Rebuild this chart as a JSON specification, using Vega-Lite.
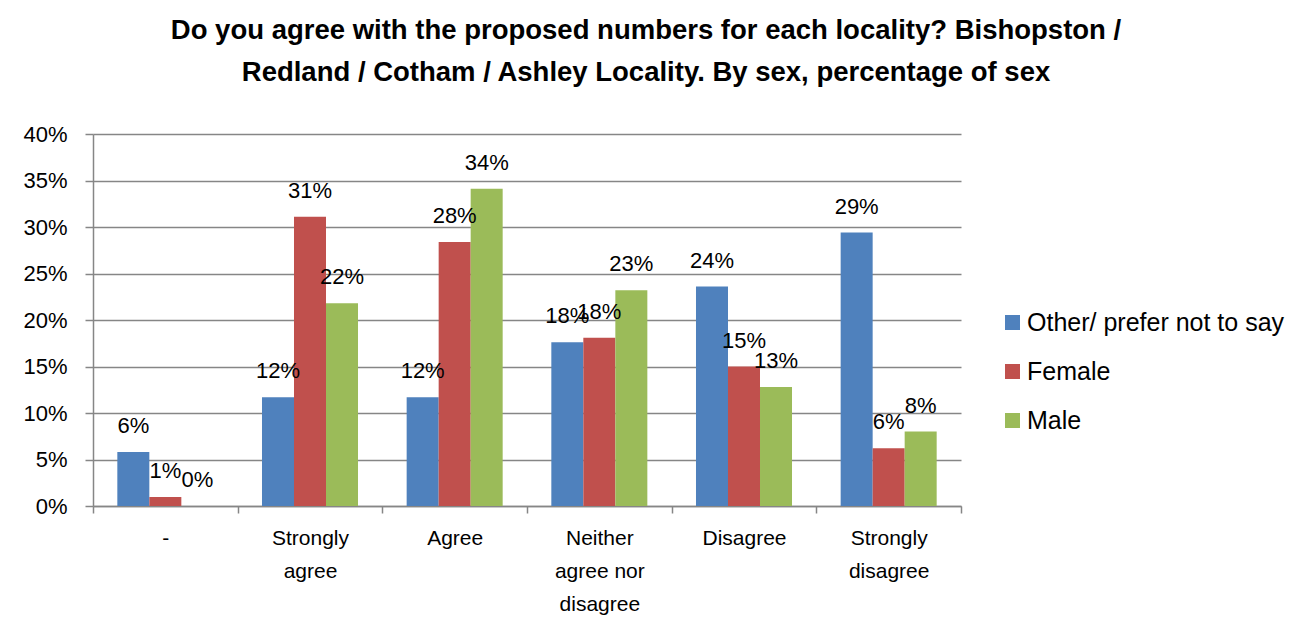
{
  "$schema": "https://vega.github.io/schema/vega-lite/v6.json",
  "autosize": {"type": "none"},
  "width": 868,
  "height": 372,
  "padding": {"left": 93, "top": 134, "right": 350, "bottom": 130},
  "background": "white",
  "title": {
    "text": ["Do you agree with the proposed numbers for each locality? Bishopston /", "Redland / Cotham / Ashley Locality. By sex, percentage of sex"],
    "font": "Liberation Sans",
    "fontSize": 27.5,
    "fontWeight": "bold",
    "color": "black",
    "lineHeight": 42,
    "anchor": "middle",
    "dx": 119,
    "offset": 37
  },
  "config": {
    "view": {"stroke": null},
    "font": "Liberation Sans"
  },
  "data": {
    "values": [
      {"response": "-", "sex": "Other/ prefer not to say", "share": 0.058},
      {"response": "-", "sex": "Female", "share": 0.0097},
      {"response": "-", "sex": "Male", "share": 0.0},
      {"response": "Strongly agree", "sex": "Other/ prefer not to say", "share": 0.117},
      {"response": "Strongly agree", "sex": "Female", "share": 0.311},
      {"response": "Strongly agree", "sex": "Male", "share": 0.218},
      {"response": "Agree", "sex": "Other/ prefer not to say", "share": 0.117},
      {"response": "Agree", "sex": "Female", "share": 0.284},
      {"response": "Agree", "sex": "Male", "share": 0.341},
      {"response": "Neither agree nor disagree", "sex": "Other/ prefer not to say", "share": 0.176},
      {"response": "Neither agree nor disagree", "sex": "Female", "share": 0.181},
      {"response": "Neither agree nor disagree", "sex": "Male", "share": 0.232},
      {"response": "Disagree", "sex": "Other/ prefer not to say", "share": 0.236},
      {"response": "Disagree", "sex": "Female", "share": 0.150},
      {"response": "Disagree", "sex": "Male", "share": 0.128},
      {"response": "Strongly disagree", "sex": "Other/ prefer not to say", "share": 0.294},
      {"response": "Strongly disagree", "sex": "Female", "share": 0.062},
      {"response": "Strongly disagree", "sex": "Male", "share": 0.080}
    ]
  },
  "encoding": {
    "x": {
      "field": "response",
      "type": "nominal",
      "sort": null,
      "scale": {"paddingInner": 0, "paddingOuter": 0},
      "axis": {
        "title": null,
        "labelAngle": 0,
        "labelFontSize": 21,
        "labelColor": "black",
        "labelLineHeight": 33,
        "labelBaseline": "top",
        "labelPadding": 14,
        "labelExpr": "!isString(datum.value) ? '' : datum.value == 'Neither agree nor disagree' ? ['Neither', 'agree nor', 'disagree'] : split(datum.value, ' ')",
        "tickBand": "extent",
        "tickSize": 7,
        "tickColor": "#868686",
        "tickWidth": 1.5,
        "domainColor": "#868686",
        "domainWidth": 1.5
      }
    },
    "xOffset": {
      "field": "sex",
      "type": "nominal",
      "sort": ["Other/ prefer not to say", "Female", "Male"],
      "scale": {"paddingInner": 0, "paddingOuter": 0.76}
    },
    "y": {
      "field": "share",
      "type": "quantitative",
      "scale": {"domain": [0, 0.4], "nice": false},
      "axis": {
        "title": null,
        "format": ".0%",
        "values": [0, 0.05, 0.1, 0.15, 0.2, 0.25, 0.3, 0.35, 0.4],
        "labelFontSize": 22,
        "labelColor": "black",
        "labelPadding": 18,
        "tickSize": 8,
        "tickColor": "#868686",
        "tickWidth": 1.5,
        "domainColor": "#868686",
        "domainWidth": 1.5,
        "gridColor": "#868686",
        "gridWidth": 1.5
      }
    }
  },
  "layer": [
    {
      "mark": {"type": "bar"},
      "encoding": {
        "color": {
          "field": "sex",
          "type": "nominal",
          "sort": ["Other/ prefer not to say", "Female", "Male"],
          "scale": {"domain": ["Other/ prefer not to say", "Female", "Male"], "range": ["#4F81BD", "#C0504D", "#9BBB59"]},
          "legend": {
            "title": null,
            "orient": "none",
            "legendX": 907,
            "legendY": 176,
            "symbolType": "square",
            "symbolSize": 225,
            "symbolStrokeWidth": 0,
            "labelFontSize": 25,
            "labelColor": "black",
            "labelOffset": 2,
            "rowPadding": 23,
            "labelLimit": 400
          }
        }
      }
    },
    {
      "mark": {"type": "text", "fontSize": 22, "color": "black", "baseline": "alphabetic", "dy": -19},
      "encoding": {
        "text": {"field": "share", "type": "quantitative", "format": ".0%"}
      }
    }
  ]
}
